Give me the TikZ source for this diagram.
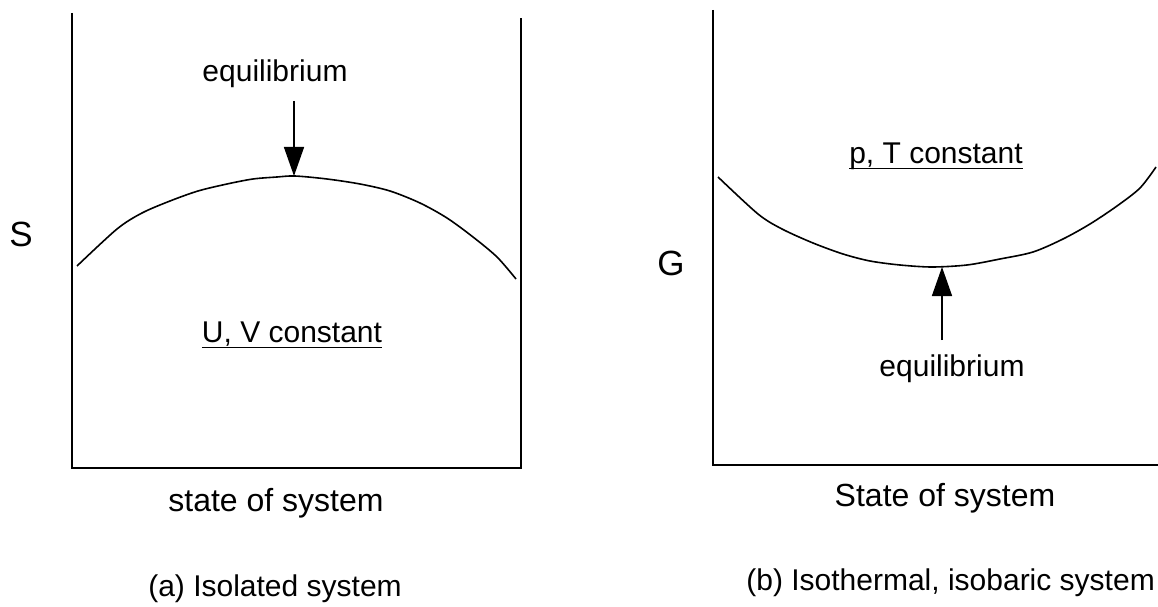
\documentclass[tikz,border=0pt]{standalone}
\usepackage{fontspec}
\setmainfont{Liberation Sans}
\usetikzlibrary{arrows.meta}
\tikzset{
  axis/.style={line width=1.8bp, line cap=butt, line join=miter},
  curve/.style={line width=1.6bp, line join=round},
  arr/.style={line width=1.5bp, -{Triangle[length=29bp,width=20bp]}},
  lbl/.style={inner sep=0pt, font=\fontsize{30bp}{34bp}\selectfont},
  big/.style={inner sep=0pt, font=\fontsize{32bp}{36bp}\selectfont},
  sym/.style={inner sep=0pt, font=\fontsize{35bp}{40bp}\selectfont},
  uline/.style={line width=1.5bp}
}
\begin{document}
\begin{tikzpicture}[x=1bp,y=-1bp]
\useasboundingbox (0,0) rectangle (1158,607);
% ---------- panel (a) ----------
\draw[axis] (72,13) -- (72,468) -- (521,468) -- (521,18);
\draw[curve] plot[smooth, tension=0.5] coordinates {
 (77,266) (117,229) (142,213) (170,201) (198,191) (227,184) (253,179)
 (277,177) (295,176) (327,179) (360,184) (390,191) (420,203) (447,218)
 (473,237) (497,257) (516,279)};
\coordinate (topA) at (294,176);
\coordinate (arrA) at (294,101);
\node[lbl, anchor=base] (eqA) at (275,82) {equilibrium};
\draw[arr] (arrA) -- (topA);
\node[lbl, anchor=base] (uv) at (292,343) {U, V constant};
\draw[uline] ([yshift=-4.5bp]uv.base west) -- ([yshift=-4.5bp]uv.base east);
\node[sym, anchor=base] (S) at (21,247) {S};
\node[big, anchor=base] (stA) at (276,511) {state of system};
\node[lbl, anchor=base] (capA) at (275,596) {(a) Isolated system};
% ---------- panel (b) ----------
\draw[axis] (713,10) -- (713,465) -- (1158,465);
\draw[curve] plot[smooth, tension=0.5] coordinates {
 (718,177) (758,214) (782,229) (813,243) (843,254) (870,261) (900,265)
 (932,267) (967,265) (1000,259) (1033,252) (1063,239) (1090,224)
 (1117,206) (1140,188) (1156,167)};
\coordinate (botB) at (942,267);
\coordinate (arrB) at (942,340);
\draw[arr] (arrB) -- (botB);
\node[lbl, anchor=base] (eqB) at (952,376) {equilibrium};
\node[lbl, anchor=base] (pt) at (936,164) {p, T constant};
\draw[uline] ([yshift=-4.5bp]pt.base west) -- ([yshift=-4.5bp]pt.base east);
\node[sym, anchor=base] (G) at (671,276) {G};
\node[big, anchor=base] (stB) at (945,506) {State of system};
\node[lbl, anchor=base east] (capB) at (1155,590) {(b) Isothermal, isobaric system};
\end{tikzpicture}
\end{document}
